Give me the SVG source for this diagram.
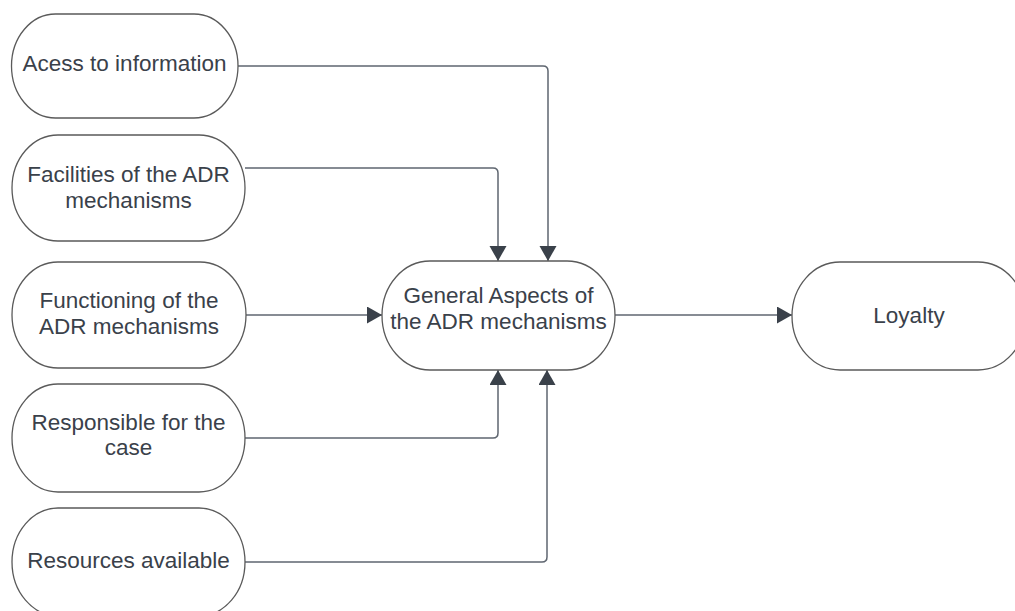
<svg xmlns="http://www.w3.org/2000/svg" width="1015" height="611" viewBox="0 0 1015 611">
  <defs>
    <style>
      .node { fill: #ffffff; stroke: #5a5a5a; stroke-width: 1.3; }
      .lbl { font-family: "Liberation Sans", Arial, sans-serif; font-size: 22.5px; fill: #3a414a; text-anchor: middle; }
      .conn { fill: none; stroke: #5f6670; stroke-width: 1.5; }
    </style>
    <marker id="arrow" markerUnits="userSpaceOnUse" markerWidth="16" markerHeight="18" refX="15" refY="8.5" orient="auto">
      <path d="M0,0 L15,8.5 L0,17 Z" fill="#3a414a"/>
    </marker>
  </defs>
  <rect width="1015" height="611" fill="#ffffff"/>

  <g id="connectors">
    <path class="conn" d="M238,66 H543 Q548,66 548,71 V261" marker-end="url(#arrow)"/>
    <path class="conn" d="M245,168 H493 Q498,168 498,173 V261" marker-end="url(#arrow)"/>
    <path class="conn" d="M246,315 H382" marker-end="url(#arrow)"/>
    <path class="conn" d="M245,438 H493 Q498,438 498,433 V370" marker-end="url(#arrow)"/>
    <path class="conn" d="M245,562 H542 Q547,562 547,557 V370" marker-end="url(#arrow)"/>
    <path class="conn" d="M615,315 H792" marker-end="url(#arrow)"/>
  </g>

  <g id="node-access">
    <rect class="node" x="11.5" y="14" width="226.5" height="104" rx="44" ry="52"/>
    <text class="lbl" x="124.5" y="71">Acess to information</text>
  </g>
  <g id="node-facilities">
    <rect class="node" x="12" y="135" width="233" height="106" rx="46" ry="53"/>
    <text class="lbl" x="128.5" y="182">Facilities of the ADR</text>
    <text class="lbl" x="128.5" y="207.5">mechanisms</text>
  </g>
  <g id="node-functioning">
    <rect class="node" x="12" y="262" width="234" height="106" rx="46" ry="53"/>
    <text class="lbl" x="129" y="308">Functioning of the</text>
    <text class="lbl" x="129" y="333.5">ADR mechanisms</text>
  </g>
  <g id="node-responsible">
    <rect class="node" x="12" y="384" width="233" height="108" rx="46" ry="54"/>
    <text class="lbl" x="128.5" y="429.5">Responsible for the</text>
    <text class="lbl" x="128.5" y="455">case</text>
  </g>
  <g id="node-resources">
    <rect class="node" x="12" y="508" width="233" height="108" rx="46" ry="54"/>
    <text class="lbl" x="128.5" y="568">Resources available</text>
  </g>
  <g id="node-general">
    <rect class="node" x="382" y="261" width="233" height="109" rx="48" ry="54.5"/>
    <text class="lbl" x="498.5" y="303">General Aspects of</text>
    <text class="lbl" x="498.5" y="329">the ADR mechanisms</text>
  </g>
  <g id="node-loyalty">
    <rect class="node" x="792" y="262" width="234" height="108" rx="48" ry="54"/>
    <text class="lbl" x="909" y="323">Loyalty</text>
  </g>
</svg>
